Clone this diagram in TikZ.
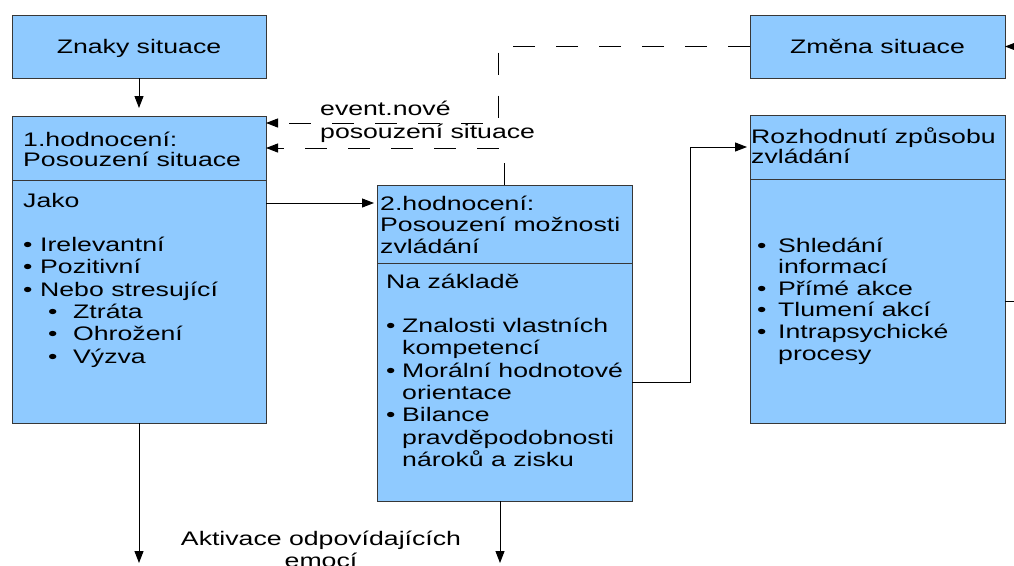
\documentclass[tikz,border=0pt]{standalone}
\usepackage{fontspec}
\setmainfont{Liberation Sans}[FakeStretch=1.36]
\usetikzlibrary{arrows.meta,calc}
\definecolor{boxfill}{RGB}{143,202,255}
\definecolor{boxline}{RGB}{55,55,55}
\newcommand\bul[2][17pt]{\makebox[#1][l]{•}#2}
\newcommand\blk[3]{\parbox[t]{#1}{\fontsize{19.6}{#2}\selectfont\raggedright #3}}
\begin{document}
\begin{tikzpicture}[x=1pt,y=-1pt,
  box/.style={draw=boxline,fill=boxfill,line width=1pt,inner sep=0pt,outer sep=0pt,anchor=north west},
  ctext/.style={font=\fontsize{19.6}{22}\selectfont,text height=14pt,text depth=0pt},
  txt/.style={inner sep=0pt,anchor=base west},
  conn/.style={line width=1pt,-{Triangle[length=12pt,width=9pt]}},
  dashconn/.style={conn,dash pattern=on 22pt off 21pt}]
\clip (0,0) rectangle (1014,565);
\fill[white] (0,0) rectangle (1014,565);
% boxes
\node[box,ctext,minimum width=254pt,minimum height=63pt] (znaky) at (12,15) {Znaky situace};
\node[box,ctext,minimum width=255pt,minimum height=63pt] (zmena) at (750,15) {Změna situace};
\node[box,minimum width=254pt,minimum height=64pt] (b1h) at (12,116) {};
\node[box,minimum width=254pt,minimum height=243pt] (b1b) at (12,180) {};
\node[box,minimum width=255pt,minimum height=78pt] (b2h) at (377,185) {};
\node[box,minimum width=255pt,minimum height=238pt] (b2b) at (377,263) {};
\node[box,minimum width=255pt,minimum height=64pt] (b3h) at (750,115) {};
\node[box,minimum width=255pt,minimum height=244pt] (b3b) at (750,179) {};
% texts
\node[txt] (t1h) at (23,146) {\blk{300pt}{20pt}{1.hodnocení:\\Posouzení situace}};
\node[txt] (t1b) at (23,207) {\blk{300pt}{22.3pt}{Jako\\\mbox{}\\\bul{Irelevantní}\\\bul{Pozitivní}\\\bul{Nebo stresující}\\\hspace*{25pt}\bul[25pt]{Ztráta}\\\hspace*{25pt}\bul[25pt]{Ohrožení}\\\hspace*{25pt}\bul[25pt]{Výzva}}};
\node[txt] (t2h) at (380,210) {\blk{300pt}{21.5pt}{2.hodnocení:\\Posouzení možnosti\\zvládání}};
\node[txt] (t2b) at (386,288) {\blk{300pt}{22.3pt}{Na základě\\\mbox{}\\\bul[16pt]{Znalosti vlastních}\\\hspace*{16pt}kompetencí\\\bul[16pt]{Morální hodnotové}\\\hspace*{16pt}orientace\\\bul[16pt]{Bilance}\\\hspace*{16pt}pravděpodobnosti\\\hspace*{16pt}nároků a zisku}};
\node[txt] (t3h) at (751,143) {\blk{300pt}{20pt}{Rozhodnutí způsobu\\zvládání}};
\node[txt] (t3b) at (757,252) {\blk{300pt}{21.6pt}{\bul[21pt]{Shledání}\\\hspace*{21pt}informací\\\bul[21pt]{Přímé akce}\\\bul[21pt]{Tlumení akcí}\\\bul[21pt]{Intrapsychické}\\\hspace*{21pt}procesy}};
\node[txt] (ev) at (320,115) {\blk{300pt}{23pt}{event.nové\\posouzení situace}};
\node[inner sep=0pt,anchor=base] (akt) at (321,545) {\parbox[t]{400pt}{\centering\fontsize{19.6}{22pt}\selectfont Aktivace odpovídajících\\emocí}};
% coordinates
\coordinate (e1) at (140,563);
\coordinate (e2) at (500,563);
\coordinate (d1) at (498,123);
\coordinate (d2) at (504,148);
% connectors
\draw[conn,shorten >=8pt] (znaky.south) -- (b1h.north);
\draw[conn,shorten >=3pt] ($(b1b.north east)+(0,23)$) coordinate (a1) -- (a1 -| b2h.west);
\draw[conn] (b1b.south) -- (b1b.south |- e1);
\draw[conn] (e2 |- b2b.south) -- (e2);
\draw[conn,shorten >=3pt] ($(b2b.north east)+(0,119)$) -- ++(58,0) |- (b3h.west);
\draw[conn] (b3b.east) -- ++(30,0) |- (zmena.east);
\draw[dashconn] (zmena.west) -| (d1) -- (d1 -| b1h.east);
\draw[dashconn] (b2h.north) |- (b1h.east |- d2);
\end{tikzpicture}
\end{document}
